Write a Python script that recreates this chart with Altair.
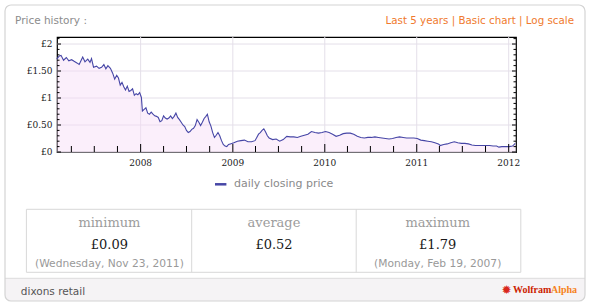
import altair as alt
import pandas as pd

# ---------------- data ----------------
dates = [
    "2007-02-02", "2007-02-12", "2007-02-19", "2007-03-01", "2007-03-12", "2007-03-22",
    "2007-04-02", "2007-04-12", "2007-04-23", "2007-05-02", "2007-05-10", "2007-05-16",
    "2007-05-25", "2007-06-05", "2007-06-14", "2007-06-20", "2007-06-28", "2007-07-10",
    "2007-07-20", "2007-07-30", "2007-08-08", "2007-08-16", "2007-08-24", "2007-09-03",
    "2007-09-12", "2007-09-20", "2007-09-28", "2007-10-05", "2007-10-12", "2007-10-19",
    "2007-10-26", "2007-11-02", "2007-11-09", "2007-11-16", "2007-11-23", "2007-11-30",
    "2007-12-07", "2007-12-14", "2007-12-21", "2007-12-28", "2008-01-04", "2008-01-08",
    "2008-01-15", "2008-01-22", "2008-01-29", "2008-02-05", "2008-02-12", "2008-02-19",
    "2008-02-26", "2008-03-04", "2008-03-11", "2008-03-18", "2008-03-25", "2008-04-01",
    "2008-04-08", "2008-04-15", "2008-04-22", "2008-04-29", "2008-05-06", "2008-05-13",
    "2008-05-20", "2008-05-27", "2008-06-03", "2008-06-10", "2008-06-17", "2008-06-24",
    "2008-07-01", "2008-07-08", "2008-07-15", "2008-07-22", "2008-07-29", "2008-08-05",
    "2008-08-12", "2008-08-19", "2008-08-26", "2008-09-02", "2008-09-09", "2008-09-16",
    "2008-09-22", "2008-09-29", "2008-10-06", "2008-10-13", "2008-10-20", "2008-10-27",
    "2008-11-03", "2008-11-10", "2008-11-17", "2008-11-24", "2008-12-01", "2008-12-08",
    "2008-12-15", "2008-12-22", "2009-01-05", "2009-01-19", "2009-02-02", "2009-02-16",
    "2009-03-02", "2009-03-16", "2009-03-30", "2009-04-06", "2009-04-13", "2009-04-20",
    "2009-04-27", "2009-05-04", "2009-05-11", "2009-05-18", "2009-05-25", "2009-06-08",
    "2009-06-22", "2009-07-06", "2009-07-20", "2009-08-03", "2009-08-17", "2009-08-31",
    "2009-09-14", "2009-09-28", "2009-10-12", "2009-10-26", "2009-11-09", "2009-11-23",
    "2009-12-07", "2009-12-21", "2010-01-04", "2010-01-18", "2010-02-01", "2010-02-15",
    "2010-03-01", "2010-03-15", "2010-03-29", "2010-04-12", "2010-04-26", "2010-05-10",
    "2010-05-24", "2010-06-07", "2010-06-21", "2010-07-05", "2010-07-19", "2010-08-02",
    "2010-08-16", "2010-08-30", "2010-09-13", "2010-09-27", "2010-10-11", "2010-10-25",
    "2010-11-08", "2010-11-22", "2010-12-06", "2010-12-20", "2011-01-03", "2011-01-17",
    "2011-01-31", "2011-02-14", "2011-02-28", "2011-03-14", "2011-03-28", "2011-04-04",
    "2011-04-18", "2011-05-02", "2011-05-16", "2011-05-30", "2011-06-13", "2011-06-27",
    "2011-07-11", "2011-07-25", "2011-08-08", "2011-08-22", "2011-09-05", "2011-09-19",
    "2011-10-03", "2011-10-17", "2011-10-31", "2011-11-14", "2011-11-23", "2011-12-05",
    "2011-12-19", "2012-01-03", "2012-01-16", "2012-01-23", "2012-01-27",
]
prices = [
    1.72, 1.78, 1.79, 1.70, 1.75, 1.69,
    1.71, 1.68, 1.65, 1.62, 1.70, 1.76,
    1.67, 1.72, 1.66, 1.73, 1.57, 1.59,
    1.55, 1.57, 1.62, 1.54, 1.60, 1.55,
    1.46, 1.35, 1.42, 1.37, 1.24, 1.29,
    1.21, 1.15, 1.22, 1.12, 1.14, 1.17,
    1.05, 1.08, 1.06, 1.10, 1.01, 0.76,
    0.79, 0.82, 0.72, 0.70, 0.74, 0.70,
    0.67, 0.66, 0.64, 0.56, 0.58, 0.67,
    0.63, 0.61, 0.63, 0.67, 0.62, 0.66,
    0.72, 0.64, 0.60, 0.55, 0.50, 0.47,
    0.40, 0.36, 0.38, 0.42, 0.44, 0.49,
    0.60, 0.55, 0.49, 0.55, 0.62, 0.66,
    0.70, 0.56, 0.48, 0.36, 0.27, 0.31,
    0.36, 0.30, 0.21, 0.14, 0.11, 0.10,
    0.14, 0.15, 0.17, 0.20, 0.21, 0.22,
    0.19, 0.19, 0.21, 0.27, 0.33, 0.36,
    0.40, 0.43, 0.37, 0.30, 0.26, 0.23,
    0.24, 0.20, 0.23, 0.29, 0.28, 0.28,
    0.27, 0.29, 0.31, 0.33, 0.38, 0.36,
    0.35, 0.36, 0.38, 0.36, 0.33, 0.29,
    0.31, 0.34, 0.35, 0.35, 0.33, 0.29,
    0.27, 0.26, 0.27, 0.27, 0.28, 0.27,
    0.26, 0.25, 0.24, 0.25, 0.27, 0.28,
    0.27, 0.26, 0.26, 0.26, 0.25, 0.22,
    0.21, 0.20, 0.19, 0.17, 0.15, 0.12,
    0.14, 0.15, 0.17, 0.19, 0.17, 0.16,
    0.16, 0.15, 0.13, 0.12, 0.12, 0.12,
    0.12, 0.12, 0.11, 0.11, 0.09, 0.10,
    0.10, 0.10, 0.11, 0.14, 0.16,
]

year_ticks = ["2008-01-01", "2009-01-01", "2010-01-01", "2011-01-01", "2012-01-01"]
year_labels = ["2008", "2009", "2010", "2011", "2012"]
quarter_ticks = [
    "2007-04-01", "2007-07-01", "2007-10-01",
    "2008-04-01", "2008-07-01", "2008-10-01",
    "2009-04-01", "2009-07-01", "2009-10-01",
    "2010-04-01", "2010-07-01", "2010-10-01",
    "2011-04-01", "2011-07-01", "2011-10-01",
]
y_major = [0, 0.5, 1, 1.5, 2]
y_labels = ["£0", "£0.50", "£1", "£1.50", "£2"]
y_minor = [0.1, 0.2, 0.3, 0.4, 0.6, 0.7, 0.8, 0.9, 1.1, 1.2, 1.3, 1.4,
           1.6, 1.7, 1.8, 1.9, 2.1]

title_text = "Price history :"
links_text = "Last 5 years | Basic chart | Log scale"
legend_text = "daily closing price"
stat_names = ["minimum", "average", "maximum"]
stat_values = ["£0.09", "£0.52", "£1.79"]
stat_dates = ["(Wednesday, Nov 23, 2011)", "", "(Monday, Feb 19, 2007)"]
footer_text = "dixons retail"

# ---------------- layout ----------------
W, H = 459, 115
LINE = "#4646a6"
GRID = "#e4dfe9"

price_df = pd.DataFrame({"date": dates, "price": prices})
xlab_df = pd.DataFrame({"t": year_ticks, "lab": year_labels})
ylab_df = pd.DataFrame({"v": y_major, "lab": y_labels})
one = pd.DataFrame({"a": [0]})

xscale = alt.Scale(type="utc", domain=[
    alt.DateTime(year=2007, month=2, date=3, utc=True),
    alt.DateTime(year=2012, month=1, date=30, utc=True)])
yscale = alt.Scale(domain=[0, 2.13], nice=False, zero=True)

X = lambda f: alt.X(f, scale=xscale, axis=None)
Y = lambda f: alt.Y(f, scale=yscale, axis=None)

grid_x = alt.Chart(xlab_df).mark_rule(color=GRID, strokeWidth=1).encode(
    x=X("t:T"), y=alt.value(0), y2=alt.value(H))
grid_y = alt.Chart(ylab_df).mark_rule(color=GRID, strokeWidth=1).encode(
    y=Y("v:Q"), x=alt.value(0), x2=alt.value(W))

area = alt.Chart(price_df).mark_area(color="#f6dcf6", opacity=0.45).encode(
    x=X("date:T"), y=Y("price:Q"))
line = alt.Chart(price_df).mark_line(color=LINE, strokeWidth=1.1).encode(
    x=X("date:T"), y=Y("price:Q"))

xlabels = alt.Chart(xlab_df).mark_text(
    font="DejaVu Serif", fontSize=9, color="#222", baseline="middle", align="center"
).encode(x=X("t:T"), y=alt.value(H + 10.5), text="lab:N")
ylabels = alt.Chart(ylab_df).mark_text(
    font="DejaVu Serif", fontSize=9, color="#222", baseline="middle", align="right"
).encode(y=Y("v:Q"), x=alt.value(-4.5), text="lab:N")


def xticks(vals, size):
    return alt.Chart(pd.DataFrame({"t": vals})).mark_rule(color="black", strokeWidth=1).encode(
        x=X("t:T"), y=alt.value(H), y2=alt.value(H - size))


def yticks(vals, size, right):
    x0 = W if right else 0
    x1 = W - size if right else size
    return alt.Chart(pd.DataFrame({"v": vals})).mark_rule(color="black", strokeWidth=1).encode(
        y=Y("v:Q"), x=alt.value(x0), x2=alt.value(x1))


ticks = [
    xticks(year_ticks, 8), xticks(quarter_ticks, 6),
    yticks(y_major, 4, False), yticks(y_minor, 2.5, False),
    yticks(y_major, 4, True), yticks(y_minor, 2.5, True),
]


def rect(x, x2, y, y2, **kw):
    return alt.Chart(one).mark_rect(**kw).encode(
        x=alt.value(x), x2=alt.value(x2), y=alt.value(y), y2=alt.value(y2))


def rule(x, x2, y, y2, **kw):
    return alt.Chart(one).mark_rule(**kw).encode(
        x=alt.value(x), x2=alt.value(x2), y=alt.value(y), y2=alt.value(y2))


def text(s, x, y, **kw):
    return alt.Chart(one).mark_text(**kw).encode(
        x=alt.value(x), y=alt.value(y), text=alt.value(s))


decor = [
    rect(-52, 528, 241.3, 264, fill="#f5f3f5", cornerRadiusBottomLeft=6,
         cornerRadiusBottomRight=6),
    rule(-52, 528, 241.3, 241.3, color="#dddddd", strokeWidth=1),
    rect(-52, 528, -32, 264, fill="white", fillOpacity=0, stroke="#d4d4d4",
         strokeWidth=1.2, cornerRadius=6),
    text(title_text, -42, -13.5, font="DejaVu Sans", fontSize=10.5, color="#8c8c8c",
         align="left", baseline="alphabetic"),
    text(links_text, 517, -13.5, font="DejaVu Sans", fontSize=10.3, color="#f07a2e",
         align="right", baseline="alphabetic"),
    rule(158, 169.4, 147.3, 147.3, color=LINE, strokeWidth=2.5),
    text(legend_text, 177, 147.3, font="DejaVu Sans", fontSize=11, color="#8a8a8a",
         align="left", baseline="middle"),
    rect(-30.6, 463.8, 172.3, 235.3, fill="white", fillOpacity=0, stroke="#d8d8d8",
         strokeWidth=1),
    rule(134.7, 134.7, 172.3, 235.3, color="#d8d8d8", strokeWidth=1),
    rule(299.2, 299.2, 172.3, 235.3, color="#d8d8d8", strokeWidth=1),
    text(footer_text, -36.2, 255.3, font="DejaVu Sans", fontSize=10.5, color="#555555",
         align="left", baseline="middle"),
    text("✹", 449.5, 252.5, font="DejaVu Sans", fontSize=12, color="#d9261c",
         align="center", baseline="middle"),
    text("Wolfram", 456, 252.5, font="Liberation Serif", fontSize=10, fontWeight="bold",
         color="#cc2200", align="left", baseline="middle"),
    text("Alpha", 494, 252.5, font="Liberation Serif", fontSize=10, fontWeight="bold",
         color="#f58220", align="left", baseline="middle"),
]
centers = [52.4, 217, 380.7]
for cx, nm, val, dt in zip(centers, stat_names, stat_values, stat_dates):
    decor.append(text(nm, cx, 186.3, font="DejaVu Serif", fontSize=13, color="#9c9c9c",
                      align="center", baseline="middle"))
    decor.append(text(val, cx, 208.3, font="DejaVu Serif", fontSize=13, color="#1a1a1a",
                      align="center", baseline="middle"))
    if dt:
        decor.append(text(dt, cx, 227.3, font="DejaVu Sans", fontSize=10.7, color="#999999",
                          align="center", baseline="middle"))

chart = alt.layer(grid_x, grid_y, area, line, *ticks, xlabels, ylabels, *decor).properties(
    width=W, height=H,
    padding={"left": 57, "top": 37, "right": 74, "bottom": 155},
    autosize=alt.AutoSizeParams(type="none"),
    background="white",
).configure_view(stroke="black", strokeWidth=1.2)

chart.save("out.html", embed_options={"renderer": "svg", "actions": False})
